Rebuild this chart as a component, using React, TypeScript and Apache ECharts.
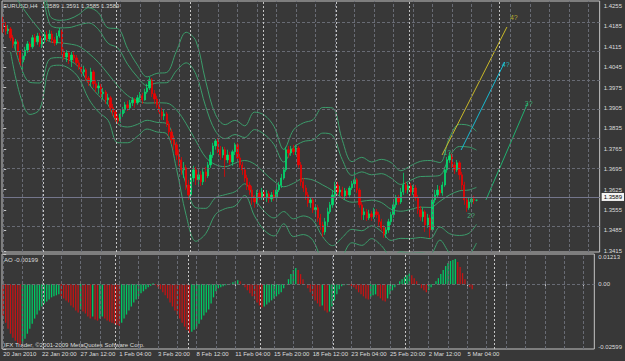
import React, { useEffect, useRef } from "react";
import * as echarts from "echarts";

const FONT = "'Liberation Sans', Arial, sans-serif";

const timeLabels = ["20 Jan 2010", "22 Jan 20:00", "27 Jan 12:00", "1 Feb 04:00", "3 Feb 20:00", "8 Feb 12:00", "11 Feb 04:00", "15 Feb 20:00", "18 Feb 12:00", "23 Feb 04:00", "25 Feb 20:00", "2 Mar 12:00", "5 Mar 04:00"];
const priceTicks = [1.3415, 1.3485, 1.3555, 1.3625, 1.3695, 1.3765, 1.3835, 1.3905, 1.3975, 1.4045, 1.4115, 1.4185, 1.4255];
const aoTicks = [0.01213, 0, -0.02599];
const lastPrice = 1.3589;
const aoLast = -0.00199;

// [open, close, low, high]
const candles = [
[1.4207,1.4187,1.4163,1.4218],[1.4187,1.4170,1.4156,1.4200],[1.4170,1.4176,1.4159,1.4190],[1.4176,1.4146,1.4135,1.4183],
[1.4146,1.4125,1.4111,1.4156],[1.4125,1.4132,1.4104,1.4142],[1.4132,1.4098,1.4087,1.4139],[1.4098,1.4063,1.4050,1.4104],
[1.4063,1.4084,1.4026,1.4094],[1.4084,1.4104,1.4070,1.4115],[1.4104,1.4125,1.4094,1.4135],[1.4125,1.4115,1.4098,1.4132],
[1.4115,1.4146,1.4108,1.4156],[1.4146,1.4132,1.4118,1.4159],[1.4132,1.4152,1.4122,1.4163],[1.4152,1.4125,1.4115,1.4163],
[1.4125,1.4139,1.4111,1.4146],[1.4139,1.4156,1.4128,1.4166],[1.4156,1.4142,1.4132,1.4170],[1.4142,1.4159,1.4135,1.4173],
[1.4159,1.4139,1.4128,1.4170],[1.4139,1.4128,1.4118,1.4149],[1.4128,1.4152,1.4122,1.4163],[1.4152,1.4170,1.4146,1.4180],
[1.4170,1.4098,1.4087,1.4173],[1.4098,1.4080,1.4070,1.4108],[1.4080,1.4094,1.4063,1.4104],[1.4094,1.4070,1.4056,1.4101],
[1.4070,1.4087,1.4046,1.4098],[1.4087,1.4077,1.4063,1.4098],[1.4077,1.4060,1.4050,1.4087],[1.4060,1.4046,1.4036,1.4070],
[1.4046,1.4029,1.4015,1.4056],[1.4029,1.4036,1.4015,1.4050],[1.4036,1.4008,1.3998,1.4043],[1.4008,1.3995,1.3981,1.4015],
[1.3995,1.4029,1.3981,1.4043],[1.4029,1.3988,1.3974,1.4036],[1.3988,1.3974,1.3960,1.4002],[1.3974,1.3981,1.3954,1.3995],
[1.3981,1.3954,1.3940,1.3988],[1.3954,1.3960,1.3936,1.3974],[1.3960,1.3933,1.3919,1.3967],[1.3933,1.3940,1.3919,1.3954],
[1.3940,1.3906,1.3892,1.3947],[1.3906,1.3892,1.3878,1.3919],[1.3892,1.3871,1.3858,1.3899],[1.3871,1.3861,1.3851,1.3882],
[1.3861,1.3885,1.3854,1.3892],[1.3885,1.3899,1.3875,1.3909],[1.3899,1.3916,1.3888,1.3926],[1.3916,1.3906,1.3895,1.3930],
[1.3906,1.3923,1.3899,1.3933],[1.3923,1.3933,1.3912,1.3943],[1.3933,1.3923,1.3906,1.3940],[1.3923,1.3940,1.3916,1.3950],
[1.3940,1.3947,1.3926,1.3960],[1.3947,1.3933,1.3919,1.3957],[1.3933,1.3960,1.3930,1.3971],[1.3960,1.3974,1.3954,1.3988],
[1.3974,1.4002,1.3967,1.4012],[1.4002,1.3954,1.3943,1.4008],[1.3954,1.3936,1.3919,1.3967],[1.3936,1.3916,1.3906,1.3947],
[1.3916,1.3892,1.3882,1.3926],[1.3892,1.3878,1.3864,1.3906],[1.3878,1.3885,1.3864,1.3899],[1.3885,1.3851,1.3840,1.3892],
[1.3851,1.3823,1.3810,1.3861],[1.3823,1.3796,1.3782,1.3834],[1.3796,1.3779,1.3762,1.3810],[1.3779,1.3744,1.3727,1.3789],
[1.3744,1.3727,1.3707,1.3762],[1.3727,1.3693,1.3676,1.3737],[1.3693,1.3700,1.3665,1.3720],[1.3700,1.3641,1.3624,1.3710],
[1.3641,1.3607,1.3590,1.3659],[1.3607,1.3665,1.3600,1.3676],[1.3665,1.3693,1.3652,1.3707],[1.3693,1.3659,1.3641,1.3703],
[1.3659,1.3676,1.3635,1.3686],[1.3676,1.3652,1.3638,1.3689],[1.3652,1.3686,1.3641,1.3700],[1.3686,1.3672,1.3652,1.3703],
[1.3672,1.3710,1.3665,1.3720],[1.3710,1.3744,1.3700,1.3755],[1.3744,1.3775,1.3734,1.3786],[1.3775,1.3792,1.3762,1.3799],
[1.3792,1.3762,1.3751,1.3803],[1.3762,1.3744,1.3727,1.3775],[1.3744,1.3762,1.3734,1.3772],[1.3762,1.3727,1.3669,1.3772],
[1.3727,1.3744,1.3717,1.3762],[1.3744,1.3720,1.3710,1.3755],[1.3720,1.3755,1.3707,1.3762],[1.3755,1.3779,1.3744,1.3786],
[1.3779,1.3734,1.3724,1.3786],[1.3734,1.3710,1.3700,1.3748],[1.3710,1.3693,1.3676,1.3720],[1.3693,1.3665,1.3652,1.3703],
[1.3665,1.3641,1.3624,1.3676],[1.3641,1.3624,1.3607,1.3652],[1.3624,1.3597,1.3573,1.3638],[1.3597,1.3583,1.3563,1.3607],
[1.3583,1.3614,1.3576,1.3624],[1.3614,1.3600,1.3590,1.3624],[1.3600,1.3617,1.3590,1.3631],[1.3617,1.3597,1.3587,1.3624],
[1.3597,1.3611,1.3583,1.3624],[1.3611,1.3593,1.3580,1.3621],[1.3593,1.3607,1.3583,1.3617],[1.3607,1.3600,1.3587,1.3624],
[1.3600,1.3624,1.3593,1.3635],[1.3624,1.3641,1.3617,1.3652],[1.3641,1.3665,1.3631,1.3679],[1.3665,1.3693,1.3659,1.3703],
[1.3693,1.3762,1.3686,1.3772],[1.3762,1.3751,1.3734,1.3775],[1.3751,1.3765,1.3741,1.3775],[1.3765,1.3755,1.3744,1.3779],
[1.3755,1.3768,1.3744,1.3779],[1.3768,1.3710,1.3700,1.3775],[1.3710,1.3652,1.3638,1.3720],[1.3652,1.3631,1.3617,1.3665],
[1.3631,1.3607,1.3590,1.3641],[1.3607,1.3580,1.3566,1.3617],[1.3580,1.3590,1.3563,1.3597],[1.3590,1.3556,1.3545,1.3600],
[1.3556,1.3563,1.3535,1.3573],[1.3563,1.3528,1.3515,1.3573],[1.3528,1.3504,1.3487,1.3542],[1.3504,1.3480,1.3463,1.3515],
[1.3480,1.3515,1.3470,1.3528],[1.3515,1.3549,1.3501,1.3563],[1.3549,1.3573,1.3542,1.3583],[1.3573,1.3607,1.3563,1.3624],
[1.3607,1.3641,1.3597,1.3652],[1.3641,1.3617,1.3607,1.3652],[1.3617,1.3624,1.3604,1.3638],[1.3624,1.3604,1.3593,1.3635],
[1.3604,1.3621,1.3590,1.3631],[1.3621,1.3607,1.3593,1.3628],[1.3607,1.3631,1.3600,1.3638],[1.3631,1.3645,1.3624,1.3655],
[1.3645,1.3659,1.3631,1.3686],[1.3659,1.3624,1.3614,1.3665],[1.3624,1.3573,1.3563,1.3631],[1.3573,1.3539,1.3521,1.3583],
[1.3539,1.3549,1.3521,1.3563],[1.3549,1.3528,1.3518,1.3559],[1.3528,1.3542,1.3521,1.3556],[1.3542,1.3532,1.3518,1.3552],
[1.3532,1.3549,1.3525,1.3563],[1.3549,1.3539,1.3528,1.3559],[1.3539,1.3515,1.3501,1.3549],[1.3515,1.3494,1.3484,1.3525],
[1.3494,1.3473,1.3460,1.3504],[1.3473,1.3487,1.3460,1.3497],[1.3487,1.3515,1.3477,1.3525],[1.3515,1.3539,1.3504,1.3549],
[1.3539,1.3573,1.3528,1.3587],[1.3573,1.3597,1.3563,1.3607],[1.3597,1.3583,1.3573,1.3607],[1.3583,1.3617,1.3576,1.3631],
[1.3617,1.3641,1.3607,1.3683],[1.3641,1.3624,1.3614,1.3652],[1.3624,1.3638,1.3611,1.3648],[1.3638,1.3617,1.3604,1.3648],
[1.3617,1.3631,1.3607,1.3641],[1.3631,1.3597,1.3587,1.3641],[1.3597,1.3556,1.3542,1.3607],[1.3556,1.3532,1.3518,1.3569],
[1.3532,1.3549,1.3515,1.3563],[1.3549,1.3504,1.3480,1.3556],[1.3504,1.3528,1.3494,1.3542],[1.3528,1.3487,1.3460,1.3539],
[1.3487,1.3590,1.3480,1.3600],[1.3590,1.3607,1.3580,1.3624],[1.3607,1.3624,1.3597,1.3641],[1.3624,1.3614,1.3604,1.3638],
[1.3614,1.3641,1.3604,1.3652],[1.3641,1.3693,1.3635,1.3703],[1.3693,1.3727,1.3683,1.3737],[1.3727,1.3741,1.3717,1.3755],
[1.3741,1.3710,1.3700,1.3748],[1.3710,1.3693,1.3679,1.3720],[1.3693,1.3717,1.3686,1.3727],[1.3717,1.3676,1.3659,1.3724],
[1.3676,1.3641,1.3624,1.3686],[1.3641,1.3590,1.3573,1.3652],[1.3590,1.3563,1.3549,1.3600],[1.3563,1.3583,1.3556,1.3597],
[1.3583,1.3593,1.3569,1.3604],[1.3593,1.3589,1.3576,1.3604],[1.3589,1.3589,1.3585,1.3591]
];

const aoValues = [
-0.01257,-0.01541,-0.01784,-0.01987,-0.02149,-0.02271,-0.02352,-0.02433,-0.02392,-0.02190,
-0.01987,-0.01784,-0.01581,-0.01379,-0.01217,-0.01054,-0.00892,-0.00770,-0.00689,-0.00608,
-0.00527,-0.00487,-0.00446,-0.00406,-0.00487,-0.00568,-0.00649,-0.00730,-0.00852,-0.00933,
-0.01054,-0.01135,-0.01014,-0.01095,-0.01176,-0.01298,-0.01379,-0.01298,-0.01419,-0.01460,
-0.01379,-0.01298,-0.01379,-0.01460,-0.01500,-0.01541,-0.01581,-0.01622,-0.01663,-0.01541,
-0.01379,-0.01217,-0.01054,-0.00892,-0.00730,-0.00608,-0.00487,-0.00365,-0.00284,-0.00203,
-0.00122,-0.00061,0.00041,-0.00041,-0.00122,-0.00203,-0.00324,-0.00446,-0.00568,-0.00730,
-0.00892,-0.01054,-0.01217,-0.01379,-0.01541,-0.01703,-0.01825,-0.01946,-0.01906,-0.01825,
-0.01744,-0.01581,-0.01419,-0.01257,-0.01135,-0.01014,-0.00770,-0.00527,-0.00284,-0.00162,
-0.00122,-0.00081,-0.00041,-0.00020,0.00020,0.00081,0.00122,0.00162,0.00122,-0.00010,
-0.00122,-0.00243,-0.00365,-0.00487,-0.00608,-0.00730,-0.00852,-0.00933,-0.00892,-0.00811,
-0.00730,-0.00649,-0.00568,-0.00487,-0.00406,-0.00324,-0.00162,0.00008,0.00203,0.00406,
0.00568,0.00649,0.00568,0.00406,0.00203,-0.00012,-0.00162,-0.00324,-0.00487,-0.00649,
-0.00770,-0.00892,-0.00852,-0.01054,-0.01135,-0.01095,-0.00892,-0.00649,-0.00406,-0.00203,
-0.00081,-0.00041,-0.00020,-0.00041,-0.00081,-0.00122,-0.00203,-0.00324,-0.00406,-0.00487,
-0.00568,-0.00608,-0.00527,-0.00446,-0.00406,-0.00487,-0.00568,-0.00649,-0.00689,-0.00568,
-0.00406,-0.00243,-0.00122,0.00008,0.00122,0.00203,0.00284,0.00365,0.00446,0.00365,
0.00243,0.00122,-0.00010,-0.00162,-0.00243,-0.00324,-0.00243,-0.00122,-0.00008,0.00122,
0.00243,0.00406,0.00568,0.00730,0.00852,0.00933,0.00973,0.01014,0.00892,0.00689,
0.00446,0.00203,-0.00015,-0.00122,-0.00199
];

// Bollinger bands read at sampled bars
const bandBars = [3,7,11,15,19,23,27,31,35,39,43,47,51,55,59,63,67,71,75,79,83,87,91,95,99,103,107,111,115,119,123,127,131,135,139,143,147,151,155,159,163,167,171,175,179,183,187,191,194];
const upperOuter = [1.4520,1.4575,1.4544,1.4444,1.4224,1.4206,1.4210,1.4226,1.4249,1.4232,1.4180,1.4177,1.4109,1.4053,1.4012,1.4024,1.4027,1.4100,1.4165,1.4135,1.3997,1.3883,1.3848,1.3863,1.3844,1.3891,1.3881,1.3842,1.3763,1.3830,1.3854,1.3865,1.3907,1.3905,1.3795,1.3721,1.3736,1.3720,1.3729,1.3718,1.3690,1.3707,1.3722,1.3725,1.3718,1.3805,1.3849,1.3845,1.3825];
const upperInner = [1.4450,1.4470,1.4434,1.4354,1.4194,1.4180,1.4181,1.4190,1.4197,1.4175,1.4127,1.4111,1.4055,1.4012,1.3982,1.3991,1.3992,1.4033,1.4060,1.4021,1.3910,1.3826,1.3800,1.3814,1.3804,1.3831,1.3815,1.3780,1.3720,1.3769,1.3790,1.3796,1.3819,1.3811,1.3728,1.3674,1.3686,1.3676,1.3680,1.3665,1.3643,1.3657,1.3670,1.3671,1.3674,1.3739,1.3773,1.3771,1.3761];
const middleBand = [1.4309,1.4261,1.4214,1.4173,1.4133,1.4129,1.4125,1.4117,1.4093,1.4062,1.4022,1.3981,1.3948,1.3930,1.3922,1.3923,1.3922,1.3899,1.3851,1.3792,1.3736,1.3711,1.3704,1.3716,1.3725,1.3713,1.3683,1.3654,1.3635,1.3647,1.3663,1.3658,1.3641,1.3622,1.3595,1.3582,1.3585,1.3589,1.3581,1.3558,1.3551,1.3557,1.3565,1.3564,1.3585,1.3607,1.3621,1.3624,1.3633];
const lowerInner = [1.4169,1.4052,1.3993,1.3991,1.4073,1.4078,1.4069,1.4045,1.3989,1.3949,1.3916,1.3851,1.3840,1.3849,1.3863,1.3856,1.3852,1.3765,1.3642,1.3563,1.3561,1.3597,1.3608,1.3618,1.3645,1.3594,1.3551,1.3528,1.3550,1.3525,1.3535,1.3520,1.3463,1.3433,1.3461,1.3489,1.3484,1.3501,1.3482,1.3451,1.3458,1.3457,1.3461,1.3457,1.3497,1.3474,1.3468,1.3476,1.3506];
const lowerOuter = [1.4098,1.3947,1.3883,1.3901,1.4043,1.4052,1.4041,1.4008,1.3937,1.3892,1.3863,1.3786,1.3786,1.3808,1.3833,1.3823,1.3817,1.3698,1.3537,1.3448,1.3474,1.3540,1.3560,1.3569,1.3605,1.3535,1.3486,1.3466,1.3508,1.3464,1.3471,1.3451,1.3374,1.3339,1.3394,1.3443,1.3434,1.3457,1.3433,1.3397,1.3412,1.3407,1.3409,1.3404,1.3452,1.3408,1.3392,1.3402,1.3442];

const weekSeparators = [16.5, 46.5, 76.5, 106.5, 136.5, 166.5, 203.2];
const trendLines = [
  { color: "#c8b828", points: [[179.9, 1.3744], [206.5, 1.4183]] },
  { color: "#18b8d0", points: [[187.7, 1.3761], [205.6, 1.4063]] },
  { color: "#22b070", points: [[197.9, 1.3590], [215.0, 1.3922]] },
];
const waveLabels = [
  { text: "4?", bar: 209.3, price: 1.4217, color: "#d8c830" },
  { text: "4?", bar: 206.0, price: 1.4053, color: "#20d0d8" },
  { text: "3?", bar: 215.4, price: 1.3922, color: "#30c878" },
  { text: "2?", bar: 191.8, price: 1.3535, color: "#40c888" },
  { text: "1?", bar: 182.0, price: 1.3751, color: "#40c888" },
];

const SLOTS = 245;
const GRID_EVERY = 8;
const BG = "#383838";
const GRIDC = "#686b74";
const SEPC = "#c4c4c4";
const BAND = "#3c9c6b";
const BULL = "#00e070";
const BEAR = "#f00000";
const AO_UP = "#00c864";
const AO_DOWN = "#c41414";
const TXT = "#dcdcdc";
const FRAME = "#c4c4c4";

export default function App() {
  const ref = useRef<HTMLDivElement>(null);
  useEffect(() => {
    const chart = echarts.init(ref.current!, null, { renderer: "svg" });
    const slots = Array.from({ length: SLOTS }, (_, i) => String(i));
    const gridBars = Array.from({ length: Math.floor((SLOTS - 1) / GRID_EVERY) + 1 }, (_, k) => k * GRID_EVERY);
    const vLines = [
      ...gridBars.map((v) => ({ xAxis: v, lineStyle: { color: GRIDC, type: [3, 2], width: 1 } })),
      ...weekSeparators.map((v) => ({ xAxis: v, lineStyle: { color: SEPC, type: [2, 2], width: 1 } })),
    ];
    const band = (name: string, vals: number[]) => ({
      type: "line", name, xAxisIndex: 1, yAxisIndex: 0, z: 2,
      data: bandBars.map((b, k) => [b, vals[k]]),
      smooth: 0.35, symbol: "none", silent: true,
      lineStyle: { color: BAND, width: 1 },
    });
    const option: any = {
      animation: false,
      backgroundColor: BG,
      textStyle: { fontFamily: FONT },
      grid: [
        { left: 2, right: 23, top: 1, height: 251, show: true, borderColor: FRAME, borderWidth: 1, backgroundColor: "transparent" },
        { left: 2, right: 23, top: 254, height: 95, show: true, borderColor: FRAME, borderWidth: 1, backgroundColor: "transparent" },
      ],
      xAxis: [
        { type: "category", gridIndex: 0, data: slots, show: false, boundaryGap: true },
        { type: "value", gridIndex: 0, min: -0.5, max: SLOTS - 0.5, show: false },
        {
          type: "category", gridIndex: 1, data: slots, boundaryGap: true,
          axisLine: { show: false },
          axisTick: { show: true, interval: 15, alignWithLabel: true, length: 3, lineStyle: { color: FRAME } },
          axisLabel: {
            interval: 15, align: "left", margin: 2, fontSize: 6, color: TXT, fontFamily: FONT,
            formatter: (_v: string, idx: number) => (idx % 16 === 0 ? timeLabels[idx / 16] ?? "" : ""),
          },
          splitLine: { show: false },
        },
        { type: "value", gridIndex: 1, min: -0.5, max: SLOTS - 0.5, show: false },
      ],
      yAxis: [
        {
          type: "value", gridIndex: 0, position: "right", min: 1.34112, max: 1.42722,
          splitLine: { show: false }, axisLine: { show: false },
          axisTick: { show: true, customValues: priceTicks, length: 3, lineStyle: { color: FRAME } },
          axisLabel: { customValues: priceTicks, formatter: (v: number) => v.toFixed(4), color: TXT, fontSize: 6, margin: 4, fontFamily: FONT },
        },
        {
          type: "value", gridIndex: 1, position: "right", min: -0.02599, max: 0.01213,
          splitLine: { show: false }, axisLine: { show: false },
          axisTick: { show: true, customValues: aoTicks, length: 3, lineStyle: { color: FRAME } },
          axisLabel: {
            customValues: aoTicks, color: TXT, fontSize: 6, margin: 4, fontFamily: FONT,
            formatter: (v: number) => (v > 0.01 ? "{t|0.01213}" : v < -0.02 ? "{b|-0.02599}" : "0.00"),
            rich: {
              t: { fontSize: 6, color: TXT, fontFamily: FONT, padding: [6, 0, 0, 0] },
              b: { fontSize: 6, color: TXT, fontFamily: FONT, padding: [0, 0, 4, 0] },
            },
          },
        },
      ],
      graphic: [
        { type: "text", left: 3, top: 3, silent: true, style: { text: "EURUSD,H4  1.3589 1.3591 1.3585 1.3589", fill: TXT, font: `6px ${FONT}` } },
        { type: "text", left: 4, top: 257, silent: true, style: { text: `AO ${aoLast.toFixed(5)}`, fill: TXT, font: `6px ${FONT}` } },
        { type: "text", left: 4, top: 342, silent: true, style: { text: "IFX Trader, \u00a92001-2009 MetaQuotes Software Corp.", fill: TXT, font: `6px ${FONT}` } },
      ],
      series: [
        {
          type: "line", name: "gridMain", xAxisIndex: 1, yAxisIndex: 0, z: 1, silent: true,
          data: [[0, priceTicks[0]]], symbol: "none", lineStyle: { opacity: 0 },
          markLine: {
            silent: true, symbol: ["none", "none"], animation: false, label: { show: false },
            lineStyle: { color: GRIDC, type: [3, 2], width: 1 },
            data: [...priceTicks.map((v) => ({ yAxis: v })), ...vLines],
          },
        },
        {
          type: "line", name: "bidLine", xAxisIndex: 1, yAxisIndex: 0, z: 1, silent: true,
          data: [[0, lastPrice]], symbol: "none", lineStyle: { opacity: 0 },
          markLine: {
            silent: true, symbol: ["none", "none"], animation: false,
            lineStyle: { color: "#74768c", type: "solid", width: 1 },
            label: {
              show: true, position: "end", formatter: lastPrice.toFixed(4), color: "#000", backgroundColor: "#f4f4f4",
              fontSize: 6, fontFamily: FONT, padding: [1, 2, 1, 2], distance: 2,
            },
            data: [{ yAxis: lastPrice }],
          },
        },
        band("upperOuter", upperOuter),
        band("upperInner", upperInner),
        band("middle", middleBand),
        band("lowerInner", lowerInner),
        band("lowerOuter", lowerOuter),
        {
          type: "candlestick", name: "EURUSD", xAxisIndex: 0, yAxisIndex: 0, z: 3,
          data: candles, barWidth: 1.8,
          itemStyle: { color: BULL, color0: BEAR, borderColor: BULL, borderColor0: BEAR, borderWidth: 0.7 },
        },
        ...trendLines.map((t) => ({
          type: "line", xAxisIndex: 1, yAxisIndex: 0, z: 4, silent: true, symbol: "none",
          data: t.points, lineStyle: { color: t.color, width: 1 },
        })),
        {
          type: "scatter", xAxisIndex: 1, yAxisIndex: 0, z: 5, silent: true,
          symbolSize: 1, itemStyle: { color: "transparent" },
          data: waveLabels.map((w) => ({
            value: [w.bar, w.price],
            label: { show: true, position: "inside", formatter: w.text, color: w.color, fontSize: 7, fontFamily: FONT },
          })),
        },
        {
          type: "line", name: "gridAO", xAxisIndex: 3, yAxisIndex: 1, z: 1, silent: true,
          data: [[0, 0]], symbol: "none", lineStyle: { opacity: 0 },
          markLine: {
            silent: true, symbol: ["none", "none"], animation: false, label: { show: false },
            lineStyle: { color: GRIDC, type: [3, 2], width: 1 },
            data: [{ yAxis: 0 }, ...vLines],
          },
        },
        {
          type: "bar", name: "AO", xAxisIndex: 2, yAxisIndex: 1, z: 3, barWidth: 1.3,
          data: aoValues.map((v, i) => ({
            value: v,
            itemStyle: { color: i > 0 && v > aoValues[i - 1] ? AO_UP : AO_DOWN },
          })),
        },
      ],
    };
    chart.setOption(option);
    return () => chart.dispose();
  }, []);
  return <div ref={ref} style={{ position: "fixed", left: 0, top: 0, width: 625, height: 361 }} />;
}
